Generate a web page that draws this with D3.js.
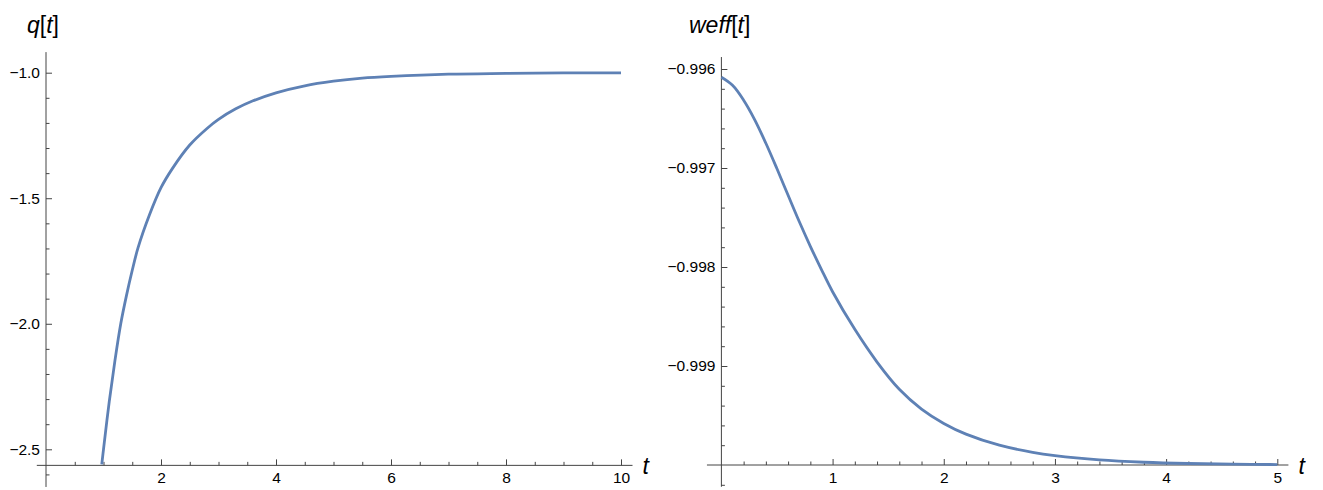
<!DOCTYPE html>
<meta charset="utf-8">
<style>
body { margin: 0; background: #fff; }
svg { font-family: "Liberation Sans", Arial, sans-serif; }
.curve { fill: none; stroke: #5e81b5; stroke-width: 2.8px; }
.axis-line { stroke: #444; stroke-width: 1px; }
.tick line { stroke: #444; }
.tick text { fill: #000; font-size: 15.5px; }
</style>
<script src="https://cdn.jsdelivr.net/npm/d3@7"></script>
<body>
<script>

// left panel: q[t]
var tQ = [0.97, 1.0, 1.1, 1.2, 1.3, 1.4, 1.5, 1.6, 1.8, 2.0, 2.2, 2.5, 2.8, 3.0, 3.3, 3.6, 4.0, 4.5, 5.0, 5.5, 6.0, 7.0, 8.0, 9.0, 10.0];
var qVals = [-2.56, -2.50, -2.31, -2.145, -2.00, -1.887, -1.787, -1.698, -1.566, -1.458, -1.381, -1.288, -1.222, -1.186, -1.144, -1.112, -1.080, -1.052, -1.034, -1.022, -1.015, -1.006, -1.003, -1.001, -1.0005];
var qXTicks = [2, 4, 6, 8, 10];
var qYTicks = [-2.5, -2.0, -1.5, -1.0];

// right panel: weff[t]
var tW = [0, 0.1, 0.2, 0.3, 0.4, 0.5, 0.6, 0.7, 0.8, 0.9, 1.0, 1.2, 1.4, 1.6, 1.8, 2.0, 2.2, 2.5, 2.8, 3.0, 3.4, 3.8, 4.2, 4.6, 5.0];
var wVals = [-0.996084, -0.996165, -0.996315, -0.996513, -0.996750, -0.997008, -0.997276, -0.997541, -0.997791, -0.998026, -0.998250, -0.998630, -0.998960, -0.999235, -0.999435, -0.999580, -0.999688, -0.999800, -0.999872, -0.999905, -0.999948, -0.999972, -0.999985, -0.9999915, -0.9999953];
var wXTicks = [1, 2, 3, 4, 5];
var wYTicks = [-0.999, -0.998, -0.997, -0.996];

var svg = d3.select("body").append("svg")
    .attr("width", 1323)
    .attr("height", 490);

function range(a, b, step) {
  var out = [];
  var n = Math.round((b - a) / step);
  for (var i = 0; i <= n; i++) out.push(+(a + i * step).toFixed(6));
  return out;
}

function panel(opt) {
  var x = d3.scaleLinear().domain(opt.xDomain).range(opt.xRange);
  var y = d3.scaleLinear().domain(opt.yDomain).range(opt.yRange);
  var g = svg.append("g");
  var x0 = x(0), y0 = y(opt.yOrigin);

  // axis lines (Mathematica style, crossing at origin)
  g.append("line").attr("class", "axis-line")
    .attr("x1", x(opt.xExtent[0])).attr("x2", x(opt.xExtent[1]))
    .attr("y1", y0).attr("y2", y0);
  g.append("line").attr("class", "axis-line")
    .attr("x1", x0).attr("x2", x0)
    .attr("y1", y(opt.yExtent[1])).attr("y2", y(opt.yExtent[0]));

  var notIn = function(list) {
    return function(v) { return !list.some(function(m) { return Math.abs(m - v) < 1e-9; }); };
  };
  var clean = function(s) {
    s.select(".domain").remove();
    s.attr("font-family", null).attr("font-size", null);
  };

  // x ticks pointing up, labels below
  g.append("g").attr("transform", "translate(0," + y0 + ")")
    .call(d3.axisBottom(x).tickValues(opt.xMinor.filter(notIn(opt.xTicks))).tickSize(-3.5).tickFormat(""))
    .call(clean);
  g.append("g").attr("transform", "translate(0," + y0 + ")")
    .call(d3.axisBottom(x).tickValues(opt.xTicks).tickSize(-6).tickPadding(7).tickFormat(d3.format("d")))
    .call(clean);

  // y ticks pointing right, labels left
  g.append("g").attr("transform", "translate(" + x0 + ",0)")
    .call(d3.axisLeft(y).tickValues(opt.yMinor.filter(notIn(opt.yTicks))).tickSize(-3.5).tickFormat(""))
    .call(clean);
  g.append("g").attr("transform", "translate(" + x0 + ",0)")
    .call(d3.axisLeft(y).tickValues(opt.yTicks).tickSize(-6).tickPadding(6).tickFormat(d3.format(opt.yFormat)))
    .call(clean);

  var line = d3.line()
    .x(function(d, i) { return x(opt.t[i]); })
    .y(function(d) { return y(d); })
    .curve(d3.curveCatmullRom.alpha(0.5));
  g.append("path").attr("class", "curve").attr("d", line(opt.vals));

  // axis labels
  var lab = g.append("text").attr("x", opt.labelX).attr("y", 33)
    .attr("font-size", 23).attr("fill", "#000");
  opt.label.forEach(function(p) {
    lab.append("tspan").attr("font-style", p[1] ? "italic" : "normal").text(p[0]);
  });
  g.append("text").attr("x", x(opt.xExtent[1]) + 10).attr("y", 474)
    .attr("font-size", 23).attr("font-style", "italic").attr("fill", "#000").text("t");
}

panel({
  t: tQ, vals: qVals,
  xDomain: [0, 10], xRange: [46, 621],
  yDomain: [-2.5, -1.0], yRange: [449.3, 72.7],
  yOrigin: -2.564,
  xExtent: [-0.16, 10.2], yExtent: [-2.65, -0.918],
  xTicks: qXTicks, xMinor: range(0.5, 10, 0.5),
  yTicks: qYTicks, yMinor: range(-2.6, -1.0, 0.1),
  yFormat: ".1f",
  labelX: 27, label: [["q", true], ["[", false], ["t", true], ["]", false]]
});

panel({
  t: tW, vals: wVals,
  xDomain: [0, 5], xRange: [721.4, 1277.3],
  yDomain: [-1.0, -0.996], yRange: [465, 69],
  yOrigin: -1.0,
  xExtent: [-0.13, 5.1], yExtent: [-1.00022, -0.995879],
  xTicks: wXTicks, xMinor: range(0.2, 5, 0.2),
  yTicks: wYTicks, yMinor: range(-1.0002, -0.9960, 0.0002).filter(function(v) { return Math.abs(v + 1) > 1e-9; }),
  yFormat: ".3f",
  labelX: 689, label: [["weff", true], ["[", false], ["t", true], ["]", false]]
});

</script>
</body>
